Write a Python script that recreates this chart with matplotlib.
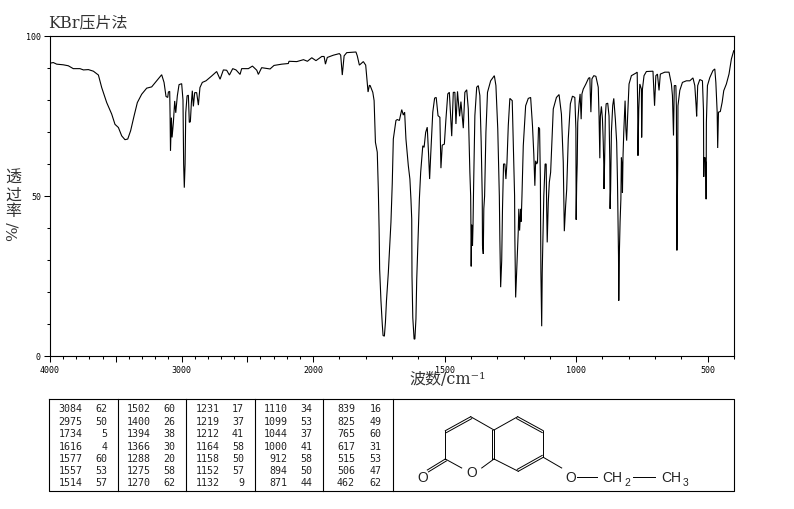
import numpy as np
import matplotlib
matplotlib.use("Agg")
import matplotlib.pyplot as plt

# spectrum trace, split only to keep the lines readable
wn_high = [4000, 3975, 3949, 3899, 3861, 3823, 3772, 3746, 3708, 3670, 3632, 3607, 3569, 3531, 3506, 3480, 3455,
           3430, 3409, 3387, 3361, 3336, 3303, 3265, 3227, 3189, 3151, 3133, 3118, 3105, 3100, 3090, 3087, 3084,
           3077, 3072, 3062, 3052, 3044, 3032, 3019, 2999, 2989, 2984, 2979, 2973, 2968, 2958, 2948, 2941, 2933,
           2925, 2918, 2910, 2900, 2885, 2872, 2860, 2842, 2814, 2771, 2733, 2707, 2682, 2657, 2636, 2611, 2586,
           2555, 2543, 2492, 2461, 2428, 2416, 2391, 2327, 2297, 2238, 2188, 2183, 2124, 2073, 2043, 2010, 1989,
           1967, 1958, 1953, 1946, 1923, 1900, 1895, 1889, 1882, 1872, 1837, 1832, 1824, 1809, 1800]
t_high = [91.5, 91.7, 91.2, 91, 90.7, 89.8, 89.8, 89.4, 89.5, 89, 87.8, 83.9, 79.2, 75.6, 72.4, 71.4, 68.8,
          67.6, 67.8, 70.4, 75, 79.2, 81.8, 83.7, 84.1, 86, 87.9, 85.5, 81.1, 80.8, 82.5, 82.7, 75, 64.1,
          74.5, 68.3, 73, 79.7, 76, 81.3, 84.8, 85.1, 80, 60, 52.6, 60, 76, 81.3, 81.5, 73, 73.2,
          79.2, 82.9, 78, 82.3, 82.3, 78.4, 83.9, 85.5, 86, 87.5, 88.9, 86.5, 89.4, 89.3, 87.8, 89.8, 89.4,
          88, 89.8, 89.8, 90.6, 89.3, 88, 90.1, 89.7, 90.8, 91.2, 91.4, 92.1, 92, 92.6, 92.1, 93.2, 92.3,
          93.6, 93.6, 91.2, 93.3, 94, 94.5, 94, 87.8, 93.8, 94.8, 95, 93.8, 90.9, 92, 90.9]

wn_mid = [1796, 1791, 1786, 1783, 1773, 1768, 1763, 1756, 1752, 1749, 1747, 1742, 1737, 1734, 1729, 1725, 1721,
          1714, 1704, 1699, 1695, 1685, 1680, 1672, 1663, 1657, 1652, 1647, 1638, 1632, 1628, 1625, 1624, 1621,
          1616, 1613, 1609, 1606, 1600, 1596, 1591, 1583, 1578, 1572, 1566, 1561, 1557, 1553, 1545, 1538, 1532,
          1525, 1518, 1514, 1509, 1501, 1495, 1488, 1482, 1477, 1473, 1467, 1461, 1457, 1451, 1443, 1438, 1429,
          1423, 1416, 1410, 1404, 1401, 1400, 1399, 1397, 1396, 1394, 1392, 1390, 1385, 1378, 1372, 1366, 1361,
          1357, 1356, 1353, 1351, 1348, 1343, 1337, 1325, 1311, 1305, 1298, 1292, 1290, 1287, 1283, 1280, 1276,
          1271, 1267, 1263, 1258, 1252, 1243, 1239, 1234, 1233, 1230, 1226, 1220, 1218, 1215, 1211, 1209, 1206,
          1201, 1192, 1182, 1173, 1166, 1161, 1157, 1154, 1150, 1147, 1143, 1139, 1136, 1134, 1131, 1129, 1123]
t_mid = [87, 82.5, 84.6, 84.5, 82.4, 79.8, 66.8, 63.7, 52, 39.7, 27.2, 17.3, 10, 6.4, 6.2, 10.5, 17.3,
         26, 41.8, 54, 67.8, 73.6, 73.9, 73.6, 77, 75.3, 76.2, 67.8, 59.5, 55.3, 49, 42.8, 25, 12,
         5.3, 5.3, 11.6, 24, 38.7, 49, 57.4, 65.7, 65.2, 69.9, 71.5, 63.1, 55.3, 62.6, 76.2, 80.6, 80.8,
         75.1, 74.6, 58.7, 65.9, 66.2, 74, 81.9, 82.4, 75.1, 68.7, 82.4, 82.4, 72.5, 82.7, 74.9, 79.5, 71.2,
         82.4, 83.2, 77.2, 57.4, 50, 41, 28, 41, 38, 34.5, 41, 52, 75.1, 84, 84.5, 81.4, 66.8,
         50, 34.5, 31.9, 46, 50, 69.9, 82.4, 86, 87.6, 84.5, 71, 50, 36.6, 21.5, 29.8, 46, 60,
         60, 55.3, 60.5, 72, 80.5, 79.8, 66.8, 50, 37, 18.3, 26.7, 39.2, 46, 39.2, 46, 42, 50,
         65.7, 78.2, 80.5, 80.8, 72, 63.1, 53.2, 61, 60, 60.5, 71.5, 71, 55.3, 26, 9.3, 26, 50]

wn_low = [1118, 1114, 1112, 1110, 1106, 1102, 1097, 1087, 1075, 1065, 1056, 1049, 1045, 1040, 1036, 1030, 1022,
          1014, 1005, 1001, 1000, 998, 996, 994, 989, 985, 981, 978, 973, 963, 953, 948, 944, 940, 933, 925, 916,
          913, 910, 908, 904, 900, 897, 895, 894, 892, 889, 886, 880, 875, 872, 871, 869, 866, 861, 857, 851, 846,
          843, 841, 839, 838, 836, 833, 830, 828, 826, 824, 822, 819, 814, 811, 808, 804, 799, 790, 773, 768, 766,
          765, 762, 758, 752, 751, 748, 742, 733, 708, 702, 697, 691, 685, 680, 663, 647, 638, 634, 630, 627, 621,
          619, 617, 614, 613, 606, 596, 581, 568, 556, 549, 544, 542, 538, 530, 520, 516, 515, 513, 510, 507, 506,
          505, 501, 492, 480, 473, 469, 464, 462, 459, 452, 445, 439, 429, 419, 410, 401]
t_low = [60, 60, 46, 35.5, 48, 54.3, 57.4, 77.2, 80.8, 81.7, 75.6, 60.5, 39, 47, 52, 67.8, 78.8,
         81.2, 80.8, 71, 42.6, 53.8, 60, 73, 78.8, 81.9, 74, 81.9, 83.4, 85, 86.8, 87, 76.2, 86.6, 87.6, 87.4, 84,
         75.1, 61.8, 74.9, 78, 74, 66.8, 60, 52.2, 60, 75, 78.8, 79, 75, 60.5, 46, 52, 70, 78.3, 80.5, 74, 66.8,
         55, 42, 31.4, 17.3, 31.4, 42, 49, 62, 60, 51, 62, 70, 79.8, 71, 67.3, 75.6, 85, 87.6, 88.4, 88.7, 77.2,
         62.6, 77.2, 85, 83.4, 68.3, 83.4, 87.6, 88.9, 89, 78.2, 87.6, 88.1, 83, 88.1, 88.7, 88.7, 85, 81.4, 68.9, 84.5, 84.5,
         77.7, 33, 60, 78.2, 83, 85.5, 86, 86, 86.9, 84.5, 78.2, 74.9, 84.5, 86.4, 86, 76.7, 56, 62, 62, 60, 49,
         73, 84.5, 87, 89.2, 89.7, 85.5, 76.2, 65, 76.2, 76.4, 79.3, 82.9, 85, 88.1, 92.8, 95.4]

x_major = [4000, 3500, 3000, 2500, 2000, 1500, 1000, 500]
x_labels = ["4000", "", "3000", "", "2000", "1500", "1000", "500"]
y_major = [0, 50, 100]

peak_columns = [
    [("3084", "62"), ("2975", "50"), ("1734", "5"), ("1616", "4"), ("1577", "60"), ("1557", "53"), ("1514", "57")],
    [("1502", "60"), ("1400", "26"), ("1394", "38"), ("1366", "30"), ("1288", "20"), ("1275", "58"), ("1270", "62")],
    [("1231", "17"), ("1219", "37"), ("1212", "41"), ("1164", "58"), ("1158", "50"), ("1152", "57"), ("1132", "9")],
    [("1110", "34"), ("1099", "53"), ("1044", "37"), ("1000", "41"), ("912", "58"), ("894", "50"), ("871", "44")],
    [("839", "16"), ("825", "49"), ("765", "60"), ("617", "31"), ("515", "53"), ("506", "47"), ("462", "62")],
]

# structure formula, pixel positions on the page
single_bonds = [(445.3, 431.7, 445.3, 460), (470.7, 417.7, 494, 431), (445.3, 460, 461.7, 469),
                (481.7, 469, 494, 460), (494, 431, 517.7, 417.7), (543.3, 431.7, 543.3, 458.3),
                (518.3, 472.3, 494, 460), (543.3, 458.3, 561.7, 469), (576.7, 477.7, 597.3, 477.7),
                (633.3, 477.7, 655, 477.7)]
double_bonds = [(445.3, 431.7, 470.7, 417.7), (494, 431, 494, 460), (517.7, 417.7, 543.3, 431.7),
                (543.3, 458.3, 518.3, 472.3), (445.3, 460, 427.3, 471)]
atoms = [("O", 422.3, 477.7), ("O", 471.7, 473.3), ("O", 570.7, 477.7), ("CH", 612.5, 477.7), ("CH", 671, 477.7)]
subscripts = [("2", 627, 483), ("3", 686, 483)]

table_x_edges = [49, 118, 186, 255, 323, 393, 734]
wn_right = [82.3, 150.7, 219.3, 287.3, 355]
t_right = [107.7, 175, 244, 312.3, 381.7]
row_y = [409.3, 422, 434.3, 446.7, 459, 471.3, 483.3]

SERIF_CJK = ["DejaVu Serif", "Noto Sans CJK SC"]
W, H = 794, 510


def forward(wn):
    # the spectrum is drawn at double scale below 2000 cm-1
    return np.interp(wn, [0, 400, 2000, 4000], [-800, 0, 3200, 5200])


def inverse(pos):
    return np.interp(pos, [-800, 0, 3200, 5200], [0, 400, 2000, 4000])


def draw_spectrum(fig):
    ax = fig.add_axes([50 / W, 1 - 357 / H, 684 / W, 320 / H])
    wn = wn_high + wn_mid + wn_low
    t = t_high + t_mid + t_low
    ax.plot(wn, t, color="black", lw=0.8, solid_joinstyle="miter")
    ax.set_xscale("function", functions=(forward, inverse))
    ax.set_xlim(4000, 400)
    ax.set_ylim(0, 100)
    ax.set_xticks(x_major, x_labels, family="DejaVu Sans Mono", fontsize=6)
    ax.set_xticks(np.arange(400, 4000, 100), minor=True)
    ax.set_yticks(y_major, [str(v) for v in y_major], family="DejaVu Sans Mono", fontsize=6)
    ax.set_yticks(np.arange(0, 101, 10), minor=True)
    ax.tick_params(which="major", length=4, width=0.75, pad=2.5)
    ax.tick_params(which="minor", length=2, width=0.75)
    for spine in ax.spines.values():
        spine.set_linewidth(0.8)
    return ax


def draw_page(fig):
    page = fig.add_axes([0, 0, 1, 1], facecolor="none")
    page.set_xlim(0, W)
    page.set_ylim(H, 0)
    page.axis("off")

    page.text(48, 23, "KBr压片法", family=SERIF_CJK, fontsize=11.5, color="#333333", va="center")
    page.text(409, 379.5, "波数/cm⁻¹", family=SERIF_CJK, fontsize=11.5, color="#333333", va="center")
    page.text(13, 195, "透\n过\n率", family=SERIF_CJK, fontsize=11.5, color="#333333",
              ha="center", va="center", linespacing=1.0)
    page.text(13, 231, "%/", family=SERIF_CJK, fontsize=11, color="#333333", ha="center", va="center", rotation=90)

    page.plot([49, 734, 734, 49, 49], [400, 400, 492, 492, 400], color="black", lw=0.8)
    for x in table_x_edges[1:-1]:
        page.plot([x, x], [400, 492], color="black", lw=0.8)
    for col, pairs in enumerate(peak_columns):
        for row, (wave, trans) in enumerate(pairs):
            page.text(wn_right[col], row_y[row], wave, family="DejaVu Sans Mono", fontsize=7.2,
                      ha="right", va="center", color="#222222")
            page.text(t_right[col], row_y[row], trans, family="DejaVu Sans Mono", fontsize=7.2,
                      ha="right", va="center", color="#222222")

    for x0, y0, x1, y1 in single_bonds + double_bonds:
        page.plot([x0, x1], [y0, y1], color="black", lw=0.7)
    for x0, y0, x1, y1 in double_bonds:
        # second stroke of a double bond, shifted toward the ring
        dx, dy = x1 - x0, y1 - y0
        length = np.hypot(dx, dy)
        nx, ny = -dy / length * 2.2, dx / length * 2.2
        if (x0 + x1) / 2 + nx < 445 or (y0 + y1) / 2 + ny > 472:
            nx, ny = -nx, -ny
        page.plot([x0 + nx, x1 + nx], [y0 + ny, y1 + ny], color="black", lw=0.7)
    for label, x, y in atoms:
        page.text(x, y, label, family="Liberation Sans", fontsize=10, ha="center", va="center", color="#222222")
    for label, x, y in subscripts:
        page.text(x, y, label, family="Liberation Sans", fontsize=7.5, ha="center", va="center", color="#222222")


def main():
    fig = plt.figure(figsize=(W / 100, H / 100), dpi=100)
    draw_spectrum(fig)
    draw_page(fig)
    fig.savefig("out.png", dpi=100)


if __name__ == "__main__":
    main()
